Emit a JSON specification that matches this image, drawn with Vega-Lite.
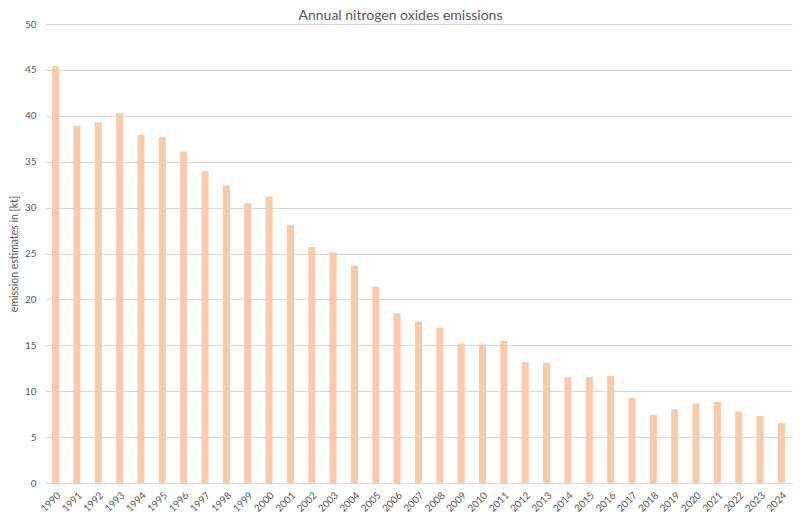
{
  "$schema": "https://vega.github.io/schema/vega-lite/v6.json",
  "width": 747,
  "height": 459,
  "autosize": {"type": "none"},
  "padding": {"left": 45, "top": 24, "right": 8, "bottom": 35},
  "background": "white",
  "title": {
    "text": "Annual nitrogen oxides emissions",
    "font": "Lato",
    "fontSize": 14,
    "fontWeight": "normal",
    "color": "#595959",
    "offset": -4,
    "dx": -18
  },
  "data": {
    "values": [
      {"year": "1990", "kt": 45.4},
      {"year": "1991", "kt": 38.9},
      {"year": "1992", "kt": 39.3},
      {"year": "1993", "kt": 40.3},
      {"year": "1994", "kt": 37.9},
      {"year": "1995", "kt": 37.7},
      {"year": "1996", "kt": 36.1},
      {"year": "1997", "kt": 34.0},
      {"year": "1998", "kt": 32.4},
      {"year": "1999", "kt": 30.5},
      {"year": "2000", "kt": 31.2},
      {"year": "2001", "kt": 28.1},
      {"year": "2002", "kt": 25.7},
      {"year": "2003", "kt": 25.1},
      {"year": "2004", "kt": 23.7},
      {"year": "2005", "kt": 21.4},
      {"year": "2006", "kt": 18.5},
      {"year": "2007", "kt": 17.6},
      {"year": "2008", "kt": 16.9},
      {"year": "2009", "kt": 15.2},
      {"year": "2010", "kt": 15.1},
      {"year": "2011", "kt": 15.5},
      {"year": "2012", "kt": 13.2},
      {"year": "2013", "kt": 13.1},
      {"year": "2014", "kt": 11.5},
      {"year": "2015", "kt": 11.55},
      {"year": "2016", "kt": 11.65},
      {"year": "2017", "kt": 9.27},
      {"year": "2018", "kt": 7.42},
      {"year": "2019", "kt": 8.04},
      {"year": "2020", "kt": 8.65},
      {"year": "2021", "kt": 8.84},
      {"year": "2022", "kt": 7.79},
      {"year": "2023", "kt": 7.31},
      {"year": "2024", "kt": 6.52}
    ]
  },
  "mark": {"type": "bar", "color": "#f8cbad"},
  "encoding": {
    "x": {
      "field": "year",
      "type": "ordinal",
      "title": null,
      "scale": {"paddingInner": 0.67, "paddingOuter": 0.33},
      "axis": {
        "labelAngle": -45,
        "labelFont": "Lato",
        "labelFontSize": 10,
        "labelColor": "#595959",
        "ticks": false,
        "domainColor": "#d9d9d9",
        "labelPadding": 7
      }
    },
    "y": {
      "field": "kt",
      "type": "quantitative",
      "title": "emission estimates in [kt]",
      "scale": {"domain": [0, 50]},
      "axis": {
        "values": [0, 5, 10, 15, 20, 25, 30, 35, 40, 45, 50],
        "domain": false,
        "ticks": false,
        "labelFont": "Lato",
        "labelFontSize": 10,
        "labelColor": "#595959",
        "labelPadding": 9,
        "gridColor": "#d9d9d9",
        "titleFont": "Lato",
        "titleFontSize": 10.5,
        "titleFontWeight": "normal",
        "titleColor": "#595959",
        "titlePadding": 5
      }
    }
  },
  "config": {"view": {"stroke": null}}
}
